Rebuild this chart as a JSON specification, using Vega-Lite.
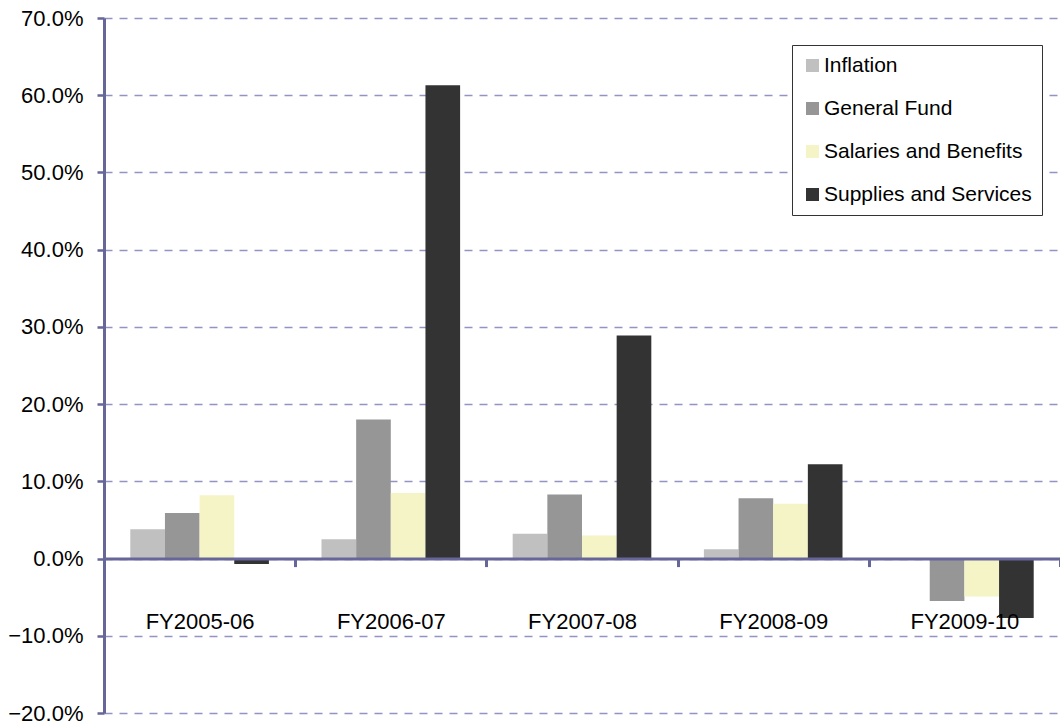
{
  "$schema": "https://vega.github.io/schema/vega-lite/v6.json",
  "width": 956,
  "height": 695,
  "autosize": {"type": "none"},
  "padding": {"left": 104, "top": 18, "right": 0, "bottom": 12},
  "background": "white",
  "config": {"view": {"stroke": null}, "font": "Liberation Sans"},
  "data": {
    "values": [
      {"year": "FY2005-06", "series": "Inflation", "value": 0.038},
      {"year": "FY2005-06", "series": "General Fund", "value": 0.059},
      {"year": "FY2005-06", "series": "Salaries and Benefits", "value": 0.082},
      {"year": "FY2005-06", "series": "Supplies and Services", "value": -0.007},
      {"year": "FY2006-07", "series": "Inflation", "value": 0.025},
      {"year": "FY2006-07", "series": "General Fund", "value": 0.180},
      {"year": "FY2006-07", "series": "Salaries and Benefits", "value": 0.085},
      {"year": "FY2006-07", "series": "Supplies and Services", "value": 0.613},
      {"year": "FY2007-08", "series": "Inflation", "value": 0.032},
      {"year": "FY2007-08", "series": "General Fund", "value": 0.083},
      {"year": "FY2007-08", "series": "Salaries and Benefits", "value": 0.030},
      {"year": "FY2007-08", "series": "Supplies and Services", "value": 0.289},
      {"year": "FY2008-09", "series": "Inflation", "value": 0.012},
      {"year": "FY2008-09", "series": "General Fund", "value": 0.078},
      {"year": "FY2008-09", "series": "Salaries and Benefits", "value": 0.071},
      {"year": "FY2008-09", "series": "Supplies and Services", "value": 0.122},
      {"year": "FY2009-10", "series": "General Fund", "value": -0.055},
      {"year": "FY2009-10", "series": "Salaries and Benefits", "value": -0.049},
      {"year": "FY2009-10", "series": "Supplies and Services", "value": -0.077}
    ]
  },
  "mark": {"type": "bar"},
  "encoding": {
    "x": {
      "field": "year",
      "type": "nominal",
      "scale": {"paddingInner": 0, "paddingOuter": 0},
      "axis": {
        "title": null,
        "orient": "bottom",
        "offset": -154.4,
        "zindex": 1,
        "labelAngle": 0,
        "labelFontSize": 22,
        "labelColor": "#000000",
        "labelPadding": 45,
        "domainColor": "#666699",
        "domainWidth": 3,
        "tickColor": "#666699",
        "tickWidth": 3,
        "tickSize": 8,
        "tickBand": "extent",
        "grid": false
      }
    },
    "xOffset": {
      "field": "series",
      "type": "nominal",
      "sort": ["Inflation", "General Fund", "Salaries and Benefits", "Supplies and Services"],
      "scale": {"domain": ["Inflation", "General Fund", "Salaries and Benefits", "Supplies and Services"], "paddingInner": 0, "paddingOuter": 0.7586}
    },
    "y": {
      "field": "value",
      "type": "quantitative",
      "scale": {"domain": [-0.2, 0.7], "nice": false, "zero": false},
      "axis": {
        "title": null,
        "format": ".1%",
        "values": [-0.2, -0.1, 0, 0.1, 0.2, 0.3, 0.4, 0.5, 0.6, 0.7],
        "grid": true,
        "gridColor": "#9393c4",
        "gridDash": [8, 7],
        "gridWidth": 1.5,
        "domainColor": "#666699",
        "domainWidth": 3,
        "tickColor": "#666699",
        "tickWidth": 2.5,
        "tickSize": 7,
        "labelFontSize": 22,
        "labelPadding": 14,
        "labelColor": "#000000"
      }
    },
    "color": {
      "field": "series",
      "type": "nominal",
      "scale": {
        "domain": ["Inflation", "General Fund", "Salaries and Benefits", "Supplies and Services"],
        "range": ["#c0c0c0", "#969696", "#f4f4c6", "#333333"]
      },
      "legend": {
        "title": null,
        "orient": "none",
        "legendX": 688,
        "legendY": 27,
        "strokeColor": "#333333",
        "fillColor": "#ffffff",
        "padding": 10,
        "labelFontSize": 21,
        "labelLimit": 400,
        "labelColor": "#000000",
        "symbolType": "square",
        "symbolSize": 169,
        "symbolStrokeWidth": 0,
        "labelOffset": 1,
        "rowPadding": 21
      }
    }
  }
}
